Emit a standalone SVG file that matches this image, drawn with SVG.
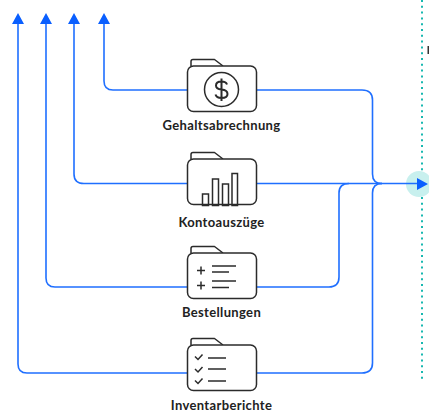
<svg xmlns="http://www.w3.org/2000/svg" width="429" height="414" viewBox="0 0 429 414">
<style>
.c{fill:none;stroke:#1f6fff;stroke-width:1.6}
.h{fill:#0a5fff}
.f{fill:#fff;stroke:#2b2b2b;stroke-width:1.5;stroke-linejoin:round}
.i{fill:none;stroke:#2b2b2b;stroke-width:1.5}
.t{font-family:"Lato",sans-serif;font-size:13px;font-weight:700;fill:#222;text-anchor:middle;letter-spacing:.35px}
</style>
<defs>
<g id="folder"><path class="f" d="M191 66V61.500Q191 59.500 193 59.500H214.500L223 66"/><rect class="f" x="187.500" y="66" width="69" height="45.500" rx="6"/></g>
</defs>
<circle cx="419" cy="184" r="13" fill="#c8f0ee"/>
<path d="M422 0V171M422 197V382" fill="none" stroke="#17b8b0" stroke-width="2" stroke-dasharray="2 3.800"/>
<rect x="427.500" y="46" width="1.500" height="8" fill="#333"/>
<g id="connectors">
<path class="c" d="M104 22V81Q104 90 113 90H362Q372.500 90 372.500 100V174Q372.500 183.500 382 183.500"/>
<path class="c" d="M74 22V174Q74 183.500 84 183.500H418"/>
<path class="c" d="M46 22V278Q46 287 55 287H329Q339 287 339 277V193Q339 183.500 349 183.500"/>
<path class="c" d="M18 22V364Q18 373 27 373H362Q372.500 373 372.500 363V193Q372.500 183.500 382 183.500"/>
<path class="h" d="M18 13L24 24H12ZM46 13L52 24H40ZM74 13L80 24H68ZM104 13L110 24H98ZM428 184L417 178V190Z"/>
</g>
<g id="gehaltsabrechnung">
<use href="#folder"/>
<circle class="i" cx="221.500" cy="89.500" r="17"/>
<path d="M227 84.500Q226 81.500 221.500 81.500Q216 81.500 216 85.500Q216 89 221.500 89.500Q227.500 90 227.500 94Q227.500 98 221.500 98Q216.500 98 215.500 94.500M221.500 78.500V101" fill="none" stroke="#2b2b2b" stroke-width="2"/>
<text class="t" x="221.500" y="130">Gehaltsabrechnung</text>
</g>
<g id="kontoauszuege">
<use href="#folder" y="93"/>
<path class="i" d="M202.500 194H208.500V205.500H202.500ZM212.500 179H218.500V205.500H212.500ZM222.500 184H228.500V205.500H222.500ZM232 173.500H237.500V205.500H232Z"/>
<text class="t" x="221.500" y="227">Kontoauszüge</text>
</g>
<g id="bestellungen">
<g transform="translate(0,-7)"><use href="#folder" y="194"/></g>
<path class="i" d="M197 270.500H205M201 266.500V274.500M197 285.500H205M201 281.500V289.500M212 266H236M212 272H229M212 281H236M212 287.500H229" stroke-width="1.600"/>
<text class="t" x="221.500" y="317">Bestellungen</text>
</g>
<g id="inventarberichte">
<use href="#folder" y="279"/>
<path class="i" d="M195 356.500L198 359.500L202.500 354.500M195 369L198 372L202.500 367M195 380.500L198 383.500L202.500 378.500M208 358H226M208 369H226M208 381H226"/>
<text class="t" x="221.500" y="410">Inventarberichte</text>
</g>
</svg>
